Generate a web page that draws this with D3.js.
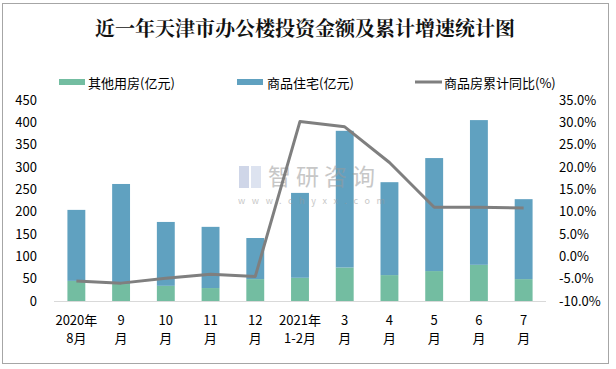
<!DOCTYPE html>
<html><head><meta charset="utf-8">
<script src="https://cdn.jsdelivr.net/npm/d3@7"></script>
<style>body{margin:0;background:#fff}svg{display:block}</style>
</head><body>
<svg id="c" width="616" height="369"></svg>
<script>
const categories = [["2020年","8月"],["9","月"],["10","月"],["11","月"],["12","月"],["2021年","1-2月"],["3","月"],["4","月"],["5","月"],["6","月"],["7","月"]];
const otherHousing = [45, 38, 34, 29, 49, 52, 75, 58, 67, 81, 49];
const residential = [159, 224, 143, 137, 92, 190, 306, 208, 253, 324, 179];
const growthPct = [-5.5, -6.0, -4.9, -4.0, -4.5, 30.2, 29.0, 21.0, 11.0, 11.0, 10.8];
const leftTicks = [0,50,100,150,200,250,300,350,400,450];
const rightTicks = [-10,-5,0,5,10,15,20,25,30,35];
const seriesNames = ["其他用房(亿元)","商品住宅(亿元)","商品房累计同比(%)"];
const title = "近一年天津市办公楼投资金额及累计增速统计图";

const svg = d3.select("#c");
const font = "'Noto Sans CJK SC', 'Noto Sans', sans-serif";
const cGreen = "#73bda1", cBlue = "#60a1c0", cLine = "#7f7f7f";

svg.append("rect").attr("x",2.5).attr("y",3.5).attr("width",606).attr("height",360)
  .attr("fill","#fff").attr("stroke","#a6a6a6").attr("stroke-width",1);

svg.append("text").attr("x",305).attr("y",27).attr("text-anchor","middle")
  .attr("dominant-baseline","central").attr("font-family","'Noto Serif CJK SC','Noto Sans CJK SC',serif")
  .attr("font-weight","bold").attr("font-size",20).attr("fill","#111").text(title);

const x = d3.scaleBand().domain(d3.range(categories.length)).range([54,546]).paddingInner(0.6).paddingOuter(0.3);
const yL = d3.scaleLinear().domain([0,450]).range([301,100]);
const yR = d3.scaleLinear().domain([-10,35]).range([301,100]);

// left axis
const gL = svg.append("g").attr("transform","translate(40,0)")
  .call(d3.axisLeft(yL).tickValues(leftTicks).tickSize(0).tickPadding(0).tickFormat(d3.format("d")));
gL.select(".domain").remove();
gL.selectAll("text").attr("font-family",font).attr("font-size",13).attr("fill","#000").attr("dx",-3);

const gR = svg.append("g").attr("transform","translate(556,0)")
  .call(d3.axisRight(yR).tickValues(rightTicks).tickSize(0).tickPadding(0).tickFormat(d=>d.toFixed(1)+"%"));
gR.select(".domain").remove();
gR.selectAll("text").attr("font-family",font).attr("font-size",13).attr("fill","#000").attr("dx",3);

// bars
const data = categories.map((c,i)=>({i, g:otherHousing[i], b:residential[i]}));
svg.append("g").selectAll("rect").data(data).join("rect")
  .attr("x",d=>x(d.i)).attr("width",x.bandwidth())
  .attr("y",d=>yL(d.g)).attr("height",d=>yL(0)-yL(d.g)).attr("fill",cGreen);
svg.append("g").selectAll("rect").data(data).join("rect")
  .attr("x",d=>x(d.i)).attr("width",x.bandwidth())
  .attr("y",d=>yL(d.g+d.b)).attr("height",d=>yL(d.g)-yL(d.g+d.b)).attr("fill",cBlue);

// x axis
svg.append("line").attr("x1",54).attr("x2",546).attr("y1",301.5).attr("y2",301.5)
  .attr("stroke","#d9d9d9").attr("stroke-width",1);
const xl = svg.append("g").selectAll("text").data(categories).join("text")
  .attr("x",(d,i)=>x(i)+x.bandwidth()/2).attr("text-anchor","middle")
  .attr("font-family",font).attr("font-size",13).attr("fill","#000");
xl.append("tspan").attr("x",(d,i)=>x(i)+x.bandwidth()/2).attr("y",325).text(d=>d[0]);
xl.append("tspan").attr("x",(d,i)=>x(i)+x.bandwidth()/2).attr("y",343).text(d=>d[1]);

// watermark
const wm = svg.append("g").attr("opacity",0.55);
wm.append("rect").attr("x",239).attr("y",166).attr("width",10).attr("height",22).attr("fill","#a9b6d6");
wm.append("rect").attr("x",251).attr("y",166).attr("width",10).attr("height",22).attr("fill","#c3cde4");
wm.append("text").attr("x",268).attr("y",175).attr("dominant-baseline","central")
  .attr("font-family",font).attr("font-size",23).attr("fill","#9a9a9a").attr("letter-spacing",5).text("智研咨询");
wm.append("text").attr("x",238).attr("y",200).attr("dominant-baseline","central")
  .attr("font-family",font).attr("font-size",9).attr("fill","#9a9a9a").attr("letter-spacing",6.6).text("www.chyxx.com");

// line
const line = d3.line().x((d,i)=>x(i)+x.bandwidth()/2).y(d=>yR(d));
svg.append("path").datum(growthPct).attr("d",line).attr("fill","none")
  .attr("stroke",cLine).attr("stroke-width",3).attr("stroke-linejoin","round");

// legend
const lg = svg.append("g");
lg.append("rect").attr("x",59).attr("y",79).attr("width",26).attr("height",6).attr("fill",cGreen);
lg.append("rect").attr("x",237).attr("y",79).attr("width",26).attr("height",6).attr("fill",cBlue);
lg.append("line").attr("x1",415).attr("x2",442).attr("y1",82).attr("y2",82).attr("stroke",cLine).attr("stroke-width",3);
[[88,seriesNames[0]],[267,seriesNames[1]],[444,seriesNames[2]]].forEach(([lx,t])=>{
  lg.append("text").attr("x",lx).attr("y",82).attr("dominant-baseline","central")
    .attr("font-family",font).attr("font-size",13).attr("fill","#000").text(t);
});
</script>
</body></html>
